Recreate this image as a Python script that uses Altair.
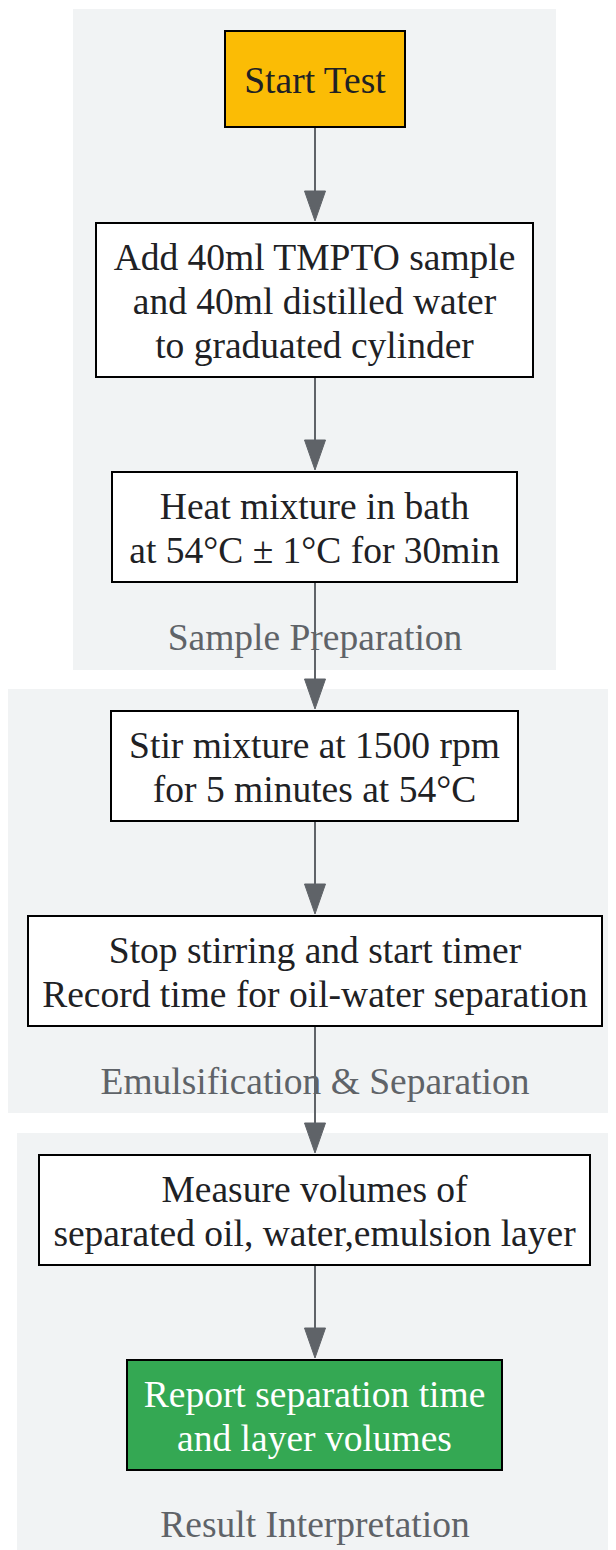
import altair as alt
import pandas as pd

# ---- data (reference pixel layout) ----
cluster_names = ["Sample Preparation", "Emulsification & Separation", "Result Interpretation"]
cluster_x1 = [73, 7, 17]
cluster_x2 = [556, 616, 612]
cluster_y1 = [9, 689, 1133]
cluster_y2 = [670, 1113, 1560]
cluster_label_x = [315, 315, 315]
cluster_label_y = [639, 1083, 1526]

node_labels = [
    ["Start Test"],
    ["Add 40ml TMPTO sample", "and 40ml distilled water", "to graduated cylinder"],
    ["Heat mixture in bath", "at 54°C ± 1°C for 30min"],
    ["Stir mixture at 1500 rpm", "for 5 minutes at 54°C"],
    ["Stop stirring and start timer", "Record time for oil-water separation"],
    ["Measure volumes of", "separated oil, water,emulsion layer"],
    ["Report separation time", "and layer volumes"],
]
node_x1 = [225, 96, 112, 111, 28, 39, 127]
node_x2 = [405, 533, 517, 518, 602, 590, 502]
node_y1 = [31, 223, 472, 711, 916, 1155, 1360]
node_y2 = [127, 377, 582, 821, 1026, 1265, 1470]
node_fill = ["#FBBC05", "#FFFFFF", "#FFFFFF", "#FFFFFF", "#FFFFFF", "#FFFFFF", "#34A853"]
node_text_color = ["#202124"] * 6 + ["#FFFFFF"]

CX = 315
FONT = "Liberation Serif"
FS = 37.5
LINE_H = 44

# ---- tables ----
clusters = pd.DataFrame({
    "name": cluster_names, "x1": cluster_x1, "x2": cluster_x2,
    "y1": cluster_y1, "y2": cluster_y2, "lx": cluster_label_x, "ly": cluster_label_y,
})
nodes = pd.DataFrame({
    "x1": node_x1, "x2": node_x2, "y1": node_y1, "y2": node_y2, "fill": node_fill,
})
rows = []
for lab, a, b, t, u, tc in zip(node_labels, node_x1, node_x2, node_y1, node_y2, node_text_color):
    n = len(lab)
    cy = (t + u) / 2
    for i, line in enumerate(lab):
        rows.append({"text": line, "x": (a + b) / 2,
                     "y": cy + (i - (n - 1) / 2) * LINE_H + 3, "tc": tc})
lines = pd.DataFrame(rows)
edges = pd.DataFrame({
    "x": [CX] * (len(node_y1) - 1),
    "y1": node_y2[:-1],
    "y2": [t - 28 for t in node_y1[1:]],
    "ay": [t - 17 for t in node_y1[1:]],
})

W, H = 600, 1542
xs = alt.Scale(domain=[8, 8 + W], nice=False, zero=False)
ys = alt.Scale(domain=[8, 8 + H], nice=False, zero=False, reverse=True)
X = lambda f: alt.X(f, type="quantitative", scale=xs, axis=None)
Y = lambda f: alt.Y(f, type="quantitative", scale=ys, axis=None)

cl_rect = alt.Chart(clusters).mark_rect(fill="#F1F3F4").encode(
    x=X("x1"), x2="x2", y=Y("y1"), y2="y2")
cl_text = alt.Chart(clusters).mark_text(font=FONT, fontSize=FS, color="#5F6368",
                                        baseline="middle", align="center").encode(
    x=X("lx"), y=Y("ly"), text="name")

edge_line = alt.Chart(edges).mark_rule(color="#5F6368", strokeWidth=2).encode(
    x=X("x"), y=Y("y1"), y2="y2")
edge_head = alt.Chart(edges).mark_point(
    shape="M-0.7,-1L0.7,-1L0,1Z", size=900, filled=True, fill="#5F6368",
    stroke="#5F6368", strokeWidth=1, opacity=1).encode(x=X("x"), y=Y("ay"))

node_rect = alt.Chart(nodes).mark_rect(stroke="#000000", strokeWidth=2).encode(
    x=X("x1"), x2="x2", y=Y("y1"), y2="y2",
    fill=alt.Fill("fill:N", scale=None))
node_text = alt.Chart(lines).mark_text(font=FONT, fontSize=FS, baseline="middle",
                                       align="center").encode(
    x=X("x"), y=Y("y"), text="text", color=alt.Color("tc:N", scale=None))

chart = alt.layer(cl_rect, edge_line, edge_head, cl_text, node_rect, node_text).properties(
    width=W, height=H, padding=0, autosize="none",
    background="#FFFFFF",
).configure_view(stroke=None)

chart.save("out.html", embed_options={"renderer": "svg", "actions": False})
